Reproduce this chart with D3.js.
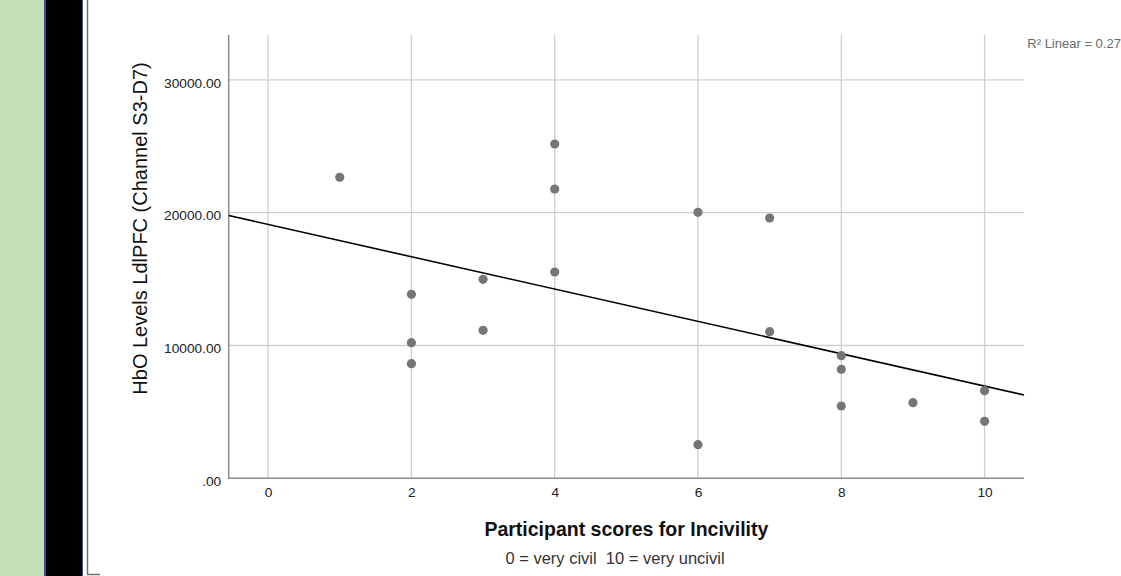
<!DOCTYPE html>
<html>
<head>
<meta charset="utf-8">
<script src="https://cdn.jsdelivr.net/npm/d3@7/dist/d3.min.js"></script>
<style>
  html, body { margin: 0; padding: 0; background: #fff; }
  svg { display: block; font-family: "Liberation Sans", Arial, sans-serif; }
</style>
</head>
<body>
<svg id="chart" width="1121" height="576"></svg>
<script>
// ---- data ----
const incivilityScores = [1, 2, 2, 2, 3, 3, 4, 4, 4, 6, 6, 7, 7, 8, 8, 8, 9, 10, 10];
const hboLevels = [22666, 13855, 10211, 8630, 14985, 11145, 25173, 21785, 15535, 20030, 2530, 19601, 11039, 9232, 8208, 5444, 5693, 6596, 4292];
const xTickValues = [0, 2, 4, 6, 8, 10];
const yTickValues = [0, 10000, 20000, 30000];
const yTickLabels = [".00", "10000.00", "20000.00", "30000.00"];
const xTitle = "Participant scores for Incivility";
const xSubtitle = "0 = very civil  10 = very uncivil";
const yTitle = "HbO Levels LdlPFC (Channel S3-D7)";

const svg = d3.select("#chart");
const W = 1121, H = 576;
svg.append("rect").attr("width", W).attr("height", H).attr("fill", "#fff");

// ---- left decorative strip ----
svg.append("rect").attr("x", 0).attr("y", 0).attr("width", 44).attr("height", H).attr("fill", "#c5e0b4");
svg.append("rect").attr("x", 44).attr("y", 0).attr("width", 39).attr("height", H).attr("fill", "#2f5496");
svg.append("rect").attr("x", 46).attr("y", 0).attr("width", 36).attr("height", H).attr("fill", "#000");
svg.append("path").attr("d", "M87.5,0 V574.5 H100").attr("fill", "none").attr("stroke", "#6e6e6e").attr("stroke-width", 1.5);

// ---- scales ----
const plot = { left: 228.7, right: 1024, top: 35, bottom: 478.3 };
const x = d3.scaleLinear().domain([-0.55, 10.55]).range([plot.left, plot.right]);
const y = d3.scaleLinear().domain([0, 33380]).range([plot.bottom, plot.top]);

// ---- grid ----
const grid = svg.append("g");
grid.selectAll("line.vx").data(xTickValues).join("line")
  .attr("x1", d => x(d)).attr("x2", d => x(d))
  .attr("y1", plot.top).attr("y2", plot.bottom)
  .attr("stroke", "#cfcfcf").attr("stroke-width", 1.3);
grid.selectAll("line.hy").data(yTickValues.filter(d => d > 0)).join("line")
  .attr("x1", plot.left).attr("x2", plot.right)
  .attr("y1", d => y(d)).attr("y2", d => y(d))
  .attr("stroke", "#cfcfcf").attr("stroke-width", 1.3);

// ---- axes ----
const xAxis = d3.axisBottom(x).tickValues(xTickValues).tickSize(0).tickPadding(9).tickFormat(d3.format("d"));
const gx = svg.append("g").attr("transform", `translate(0,${plot.bottom})`).call(xAxis);
gx.select(".domain").remove();
gx.selectAll("text").attr("font-size", 13.7).attr("fill", "#222").attr("font-family", "Liberation Sans, Arial, sans-serif");

const yAxis = d3.axisLeft(y).tickValues(yTickValues).tickSize(0).tickPadding(7.5)
  .tickFormat((d, i) => yTickLabels[i]);
const gy = svg.append("g").attr("transform", `translate(${plot.left},0)`).call(yAxis);
gy.select(".domain").remove();
gy.selectAll("text").attr("font-size", 13.7).attr("fill", "#222").attr("dy", "0.52em")
  .attr("font-family", "Liberation Sans, Arial, sans-serif");

svg.append("path")
  .attr("d", `M${plot.left},${plot.top} V${plot.bottom} H${plot.right}`)
  .attr("fill", "none").attr("stroke", "#8c8c8c").attr("stroke-width", 1.5);

// ---- regression line ----
const n = incivilityScores.length;
const mx = d3.mean(incivilityScores), my = d3.mean(hboLevels);
let sxy = 0, sxx = 0, syy = 0;
for (let i = 0; i < n; i++) {
  const dx = incivilityScores[i] - mx, dy = hboLevels[i] - my;
  sxy += dx * dy; sxx += dx * dx; syy += dy * dy;
}
const slope = sxy / sxx, intercept = my - slope * mx;
const r2 = (sxy * sxy) / (sxx * syy);
const xd = x.domain();
svg.append("line")
  .attr("x1", x(xd[0])).attr("y1", y(intercept + slope * xd[0]))
  .attr("x2", x(xd[1])).attr("y2", y(intercept + slope * xd[1]))
  .attr("stroke", "#000").attr("stroke-width", 1.6);

// ---- points ----
svg.append("g").selectAll("circle").data(incivilityScores).join("circle")
  .attr("cx", d => x(d)).attr("cy", (d, i) => y(hboLevels[i]))
  .attr("r", 4.6).attr("fill", "#767676");

// ---- titles ----
svg.append("text").attr("x", (plot.left + plot.right) / 2).attr("y", 535.5)
  .attr("text-anchor", "middle").attr("font-size", 19.5).attr("font-weight", "bold").attr("fill", "#111")
  .text(xTitle);
svg.append("text").attr("x", 615).attr("y", 564)
  .attr("text-anchor", "middle").attr("font-size", 16.5).attr("fill", "#333")
  .style("white-space", "pre")
  .text(xSubtitle);
svg.append("text").attr("transform", "translate(147,228.5) rotate(-90)")
  .attr("text-anchor", "middle").attr("font-size", 20).attr("fill", "#111")
  .text(yTitle);

svg.append("text").attr("x", 1027.3).attr("y", 48)
  .attr("font-size", 13).attr("fill", "#6a6a6a")
  .text("R\u00B2 Linear = " + d3.format(".3f")(r2));
</script>
</body>
</html>
